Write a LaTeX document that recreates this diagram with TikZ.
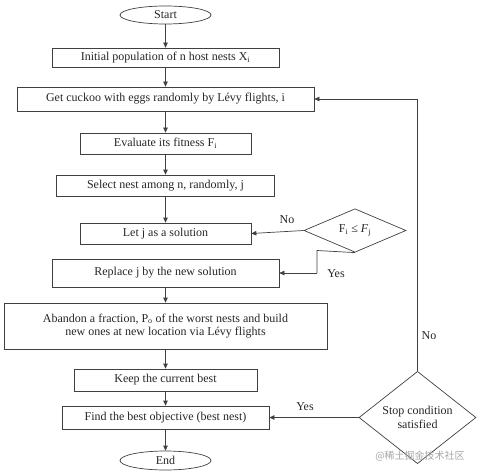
\documentclass[tikz,border=0pt]{standalone}
\usepackage{fontspec}
\setmainfont{Liberation Serif}
\newfontfamily\cjk{Noto Sans CJK SC}
\usetikzlibrary{arrows.meta,shapes.geometric}
\begin{document}
\begin{tikzpicture}[x=1pt,y=-1pt,
  every node/.style={font=\fontsize{12}{13.5}\selectfont, text=black!85},
  box/.style={draw=black!75, line width=0.7pt, rectangle, inner sep=0pt, align=center},
  term/.style={draw=black!75, line width=0.7pt, ellipse, inner sep=0pt},
  dec/.style={draw=black!75, line width=0.7pt, diamond, inner sep=0pt, align=center},
  arr/.style={draw=black!75, line width=0.7pt, -{Triangle[length=5pt,width=4.5pt]}},
  ln/.style={draw=black!75, line width=0.7pt},
  lbl/.style={inner sep=0pt}]
\useasboundingbox (0,0) rectangle (478,473);
\node[term, minimum width=91pt, minimum height=18pt] (start) at (165.5,15) {Start};
\node[box, minimum width=227pt, minimum height=19pt] (init) at (165.5,57.5) {Initial population of n host nests X\textsubscript{i}};
\node[box, minimum width=297pt, minimum height=24pt] (get) at (165.5,99) {Get cuckoo with eggs randomly by Lévy flights, i};
\node[box, minimum width=171pt, minimum height=21pt] (eval) at (165.5,143.5) {Evaluate its fitness F\textsubscript{i}};
\node[box, minimum width=218pt, minimum height=21pt] (sel) at (165.5,185.5) {Select nest among n, randomly, j};
\node[box, minimum width=171pt, minimum height=21pt] (let) at (165.5,233.5) {Let j as a solution};
\node[dec, minimum width=102pt, minimum height=37pt] (fdec) at (355,230.5) {F\textsubscript{i} ≤ \textit{F}\textsubscript{j}};
\node[box, minimum width=227pt, minimum height=28pt] (rep) at (165.5,273) {Replace j by the new solution};
\node[box, minimum width=323pt, minimum height=46pt] (ab) at (165.5,326) {Abandon a fraction, P\textsubscript{o} of the worst nests and build\\new ones at new location via Lévy flights};
\node[box, minimum width=183pt, minimum height=22pt] (keep) at (165.5,380) {Keep the current best};
\node[box, minimum width=207pt, minimum height=23pt] (find) at (165.5,417.5) {Find the best objective (best nest)};
\node[term, minimum width=91pt, minimum height=19pt] (end) at (165.5,460.5) {End};
\node[dec, minimum width=117pt, minimum height=65pt] (stop) at (417.5,417.5) {Stop condition\\satisfied};

\coordinate (yb) at (317,250.5);
\coordinate (yc) at (317,273);
\coordinate (nc) at (417.5,99);

\draw[arr] (start) -- (init);
\draw[arr] (init) -- (get);
\draw[arr] (get) -- (eval);
\draw[arr] (eval) -- (sel);
\draw[arr] (sel) -- (let);
\draw[arr] (fdec.west) -- (let.east);
\draw[ln] (fdec.south) -- (yb) -- (yc);
\draw[arr] (yc) -- (rep.east);
\draw[arr] (rep) -- (ab);
\draw[arr] (ab) -- (keep);
\draw[arr] (keep) -- (find);
\draw[arr] (find) -- (end);
\draw[arr] (stop.west) -- (find.east);
\draw[ln] (stop.north) -- (nc);
\draw[arr] (nc) -- (get.east);

\node[lbl] (no1) at (287,220) {No};
\node[lbl] (yes1) at (336,274) {Yes};
\node[lbl] (yes2) at (305,407) {Yes};
\node[lbl] (no2) at (429,336) {No};
\node[lbl, font=\cjk\fontsize{10}{12}\selectfont, text=black!35] (wm) at (420,456) {@稀土掘金技术社区};
\end{tikzpicture}
\end{document}
